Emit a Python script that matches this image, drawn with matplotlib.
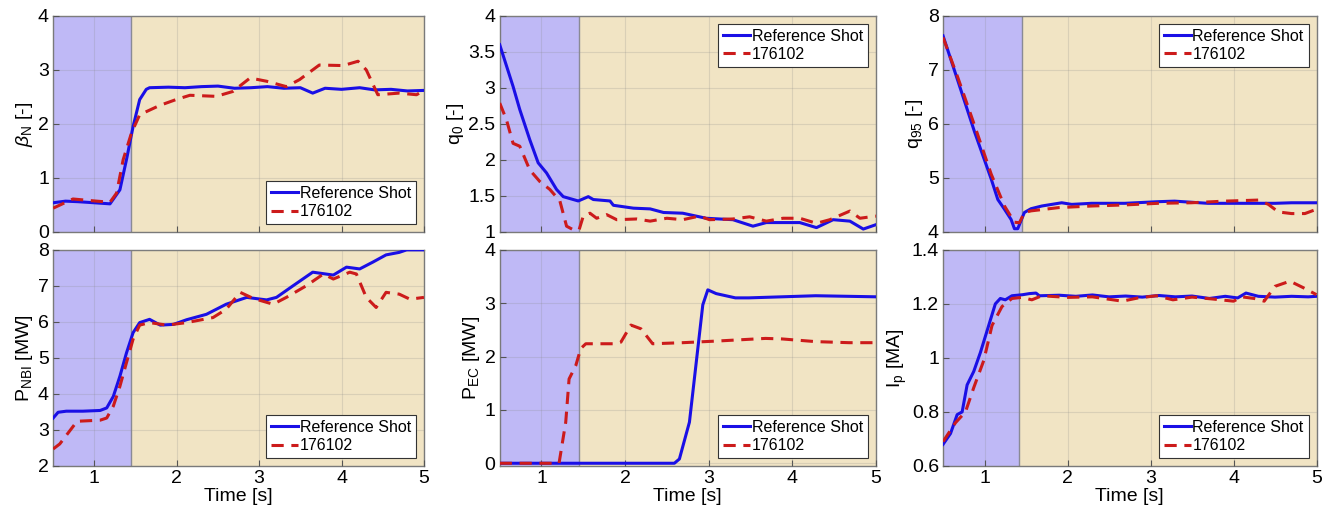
#! /usr/bin/env python3

"""
Reference shot vs. shot 176102: six time traces, ramp-up phase shaded blue,
flat-top phase shaded tan.
"""

import numpy as np
import matplotlib
matplotlib.use('Agg')
import matplotlib.pyplot as plt

plt.rcParams['font.family'] = ['Liberation Sans', 'DejaVu Sans']
plt.rcParams['mathtext.fontset'] = 'custom'
plt.rcParams['mathtext.rm'] = 'Liberation Sans'
plt.rcParams['mathtext.it'] = 'Liberation Sans:italic'

# phase boundary (end of ramp-up) in seconds
t_switch = [1.45, 1.45, 1.45, 1.45, 1.45, 1.42]

# beta_N
bn_ref_t = [0.5, 0.65, 0.8, 1.0, 1.19, 1.31, 1.39, 1.47, 1.55, 1.63, 1.67, 1.9, 2.1, 2.3, 2.5,
            2.7, 2.9, 3.1, 3.3, 3.5, 3.65, 3.8, 4.0, 4.22, 4.4, 4.6, 4.8, 5.0]
bn_ref = [0.54, 0.57, 0.56, 0.54, 0.52, 0.78, 1.34, 1.95, 2.45, 2.64, 2.67, 2.68, 2.67, 2.69, 2.70,
          2.66, 2.67, 2.69, 2.66, 2.67, 2.57, 2.66, 2.64, 2.67, 2.63, 2.64, 2.61, 2.62]
bn_shot_t = [0.5, 0.74, 1.03, 1.19, 1.27, 1.35, 1.45, 1.55, 1.79, 1.99, 2.16, 2.48, 2.68, 2.89,
             3.09, 3.33, 3.49, 3.73, 4.02, 4.2, 4.3, 4.44, 4.7, 4.91, 5.0]
bn_shot = [0.44, 0.61, 0.57, 0.55, 0.72, 1.34, 1.83, 2.17, 2.34, 2.45, 2.53, 2.51, 2.60, 2.85,
           2.79, 2.69, 2.82, 3.09, 3.08, 3.16, 3.0, 2.54, 2.57, 2.54, 2.62]

# q_0
q0_ref_t = [0.5, 0.66, 0.74, 0.86, 0.96, 1.06, 1.18, 1.26, 1.44, 1.56, 1.62, 1.82, 1.86, 2.1, 2.3,
            2.46, 2.69, 2.97, 3.29, 3.53, 3.69, 3.89, 4.09, 4.29, 4.49, 4.69, 4.85, 5.0]
q0_ref = [3.6, 3.02, 2.70, 2.28, 1.96, 1.82, 1.59, 1.49, 1.43, 1.49, 1.45, 1.43, 1.37, 1.33, 1.32,
          1.27, 1.26, 1.19, 1.17, 1.08, 1.13, 1.13, 1.13, 1.06, 1.17, 1.15, 1.04, 1.10]
q0_shot_t = [0.5, 0.58, 0.66, 0.74, 0.86, 0.98, 1.1, 1.22, 1.3, 1.38, 1.45, 1.5, 1.58, 1.66, 1.78,
             1.9, 2.14, 2.3, 2.5, 2.69, 2.89, 3.01, 3.29, 3.49, 3.69, 3.89, 4.09, 4.29, 4.45,
             4.69, 4.81, 5.0]
q0_shot = [2.79, 2.56, 2.23, 2.19, 1.86, 1.70, 1.59, 1.43, 1.08, 1.03, 1.03, 1.22, 1.26, 1.19, 1.24,
           1.17, 1.18, 1.15, 1.19, 1.17, 1.22, 1.17, 1.18, 1.21, 1.15, 1.19, 1.19, 1.12, 1.17,
           1.29, 1.19, 1.22]

# q_95
q95_ref_t = [0.5, 0.68, 0.88, 1.08, 1.16, 1.24, 1.32, 1.36, 1.40, 1.48, 1.56, 1.69, 1.93, 2.05,
             2.29, 2.69, 3.09, 3.29, 3.69, 4.09, 4.5, 4.7, 5.0]
q95_ref = [7.63, 6.79, 5.85, 4.98, 4.60, 4.42, 4.23, 4.06, 4.06, 4.36, 4.43, 4.48, 4.54, 4.51,
           4.53, 4.53, 4.56, 4.57, 4.53, 4.53, 4.53, 4.54, 4.54]
q95_shot_t = [0.5, 0.68, 0.88, 1.08, 1.24, 1.36, 1.42, 1.48, 1.56, 1.89, 2.29, 2.69, 3.09, 3.49,
              3.89, 4.3, 4.42, 4.54, 4.7, 4.86, 5.0]
q95_shot = [7.6, 6.85, 5.97, 5.07, 4.48, 4.18, 4.17, 4.36, 4.39, 4.45, 4.48, 4.50, 4.53, 4.54,
            4.57, 4.59, 4.51, 4.37, 4.34, 4.34, 4.42]

# P_NBI
nbi_ref_t = [0.5, 0.56, 0.66, 0.86, 1.07, 1.15, 1.23, 1.31, 1.39, 1.47, 1.55, 1.67, 1.8, 1.96,
             2.12, 2.36, 2.6, 2.85, 3.09, 3.21, 3.41, 3.65, 3.9, 4.06, 4.22, 4.38, 4.54, 4.7,
             4.79, 5.0]
nbi_ref = [3.33, 3.49, 3.52, 3.52, 3.54, 3.61, 3.93, 4.49, 5.14, 5.70, 5.98, 6.07, 5.91, 5.93,
           6.06, 6.21, 6.49, 6.68, 6.61, 6.68, 7.0, 7.38, 7.30, 7.52, 7.47, 7.66, 7.86, 7.93,
           8.0, 8.0]
nbi_shot_t = [0.5, 0.58, 0.79, 1.07, 1.15, 1.23, 1.31, 1.39, 1.47, 1.55, 1.67, 1.88, 2.12, 2.44,
              2.6, 2.77, 2.93, 3.17, 3.33, 3.57, 3.78, 3.9, 4.1, 4.18, 4.3, 4.42, 4.54, 4.7,
              4.83, 5.0]
nbi_shot = [2.47, 2.61, 3.24, 3.27, 3.33, 3.66, 4.21, 4.87, 5.52, 5.91, 5.98, 5.91, 5.98, 6.12,
            6.35, 6.82, 6.65, 6.49, 6.68, 7.0, 7.33, 7.19, 7.38, 7.33, 6.68, 6.40, 6.82, 6.77,
            6.63, 6.68]

# P_EC
ec_ref_t = [0.5, 1.0, 2.0, 2.59, 2.65, 2.77, 2.93, 2.99, 3.09, 3.32, 3.48, 3.88, 4.28, 5.0]
ec_ref = [0.0, 0.0, 0.0, 0.0, 0.08, 0.77, 2.97, 3.25, 3.18, 3.10, 3.10, 3.12, 3.14, 3.12]
ec_shot_t = [0.5, 1.0, 1.21, 1.29, 1.33, 1.41, 1.47, 1.53, 1.89, 1.95, 2.07, 2.19, 2.33, 2.69,
             3.09, 3.68, 3.88, 4.28, 4.68, 5.0]
ec_shot = [0.0, 0.0, 0.0, 0.77, 1.58, 1.83, 2.15, 2.24, 2.24, 2.27, 2.59, 2.52, 2.24, 2.26,
           2.29, 2.34, 2.33, 2.28, 2.26, 2.26]

# I_p
ip_ref_t = [0.5, 0.59, 0.67, 0.73, 0.79, 0.87, 0.95, 1.01, 1.13, 1.19, 1.25, 1.33, 1.46, 1.54,
            1.62, 1.66, 1.9, 2.1, 2.3, 2.5, 2.7, 2.9, 3.1, 3.3, 3.5, 3.71, 3.9, 4.05, 4.15, 4.3,
            4.5, 4.7, 4.9, 5.0]
ip_ref = [0.68, 0.72, 0.79, 0.80, 0.90, 0.95, 1.02, 1.08, 1.20, 1.22, 1.215, 1.23, 1.234, 1.238,
          1.24, 1.23, 1.232, 1.228, 1.233, 1.226, 1.229, 1.225, 1.231, 1.226, 1.229, 1.22, 1.228,
          1.222, 1.24, 1.228, 1.225, 1.228, 1.226, 1.228]
ip_shot_t = [0.5, 0.65, 0.77, 0.87, 0.99, 1.09, 1.21, 1.33, 1.45, 1.57, 1.69, 2.0, 2.3, 2.66,
             2.85, 3.07, 3.27, 3.5, 3.75, 4.0, 4.1, 4.25, 4.37, 4.5, 4.68, 4.84, 5.0]
ip_shot = [0.69, 0.76, 0.80, 0.89, 0.99, 1.12, 1.19, 1.22, 1.224, 1.215, 1.23, 1.224, 1.226,
           1.21, 1.222, 1.23, 1.215, 1.225, 1.218, 1.21, 1.226, 1.22, 1.21, 1.265, 1.284, 1.26,
           1.234]

panels = [
    (bn_ref_t, bn_ref, bn_shot_t, bn_shot, r'$\beta_{\rm N}$ [-]', (0, 4), [0, 1, 2, 3, 4], 'lower right'),
    (q0_ref_t, q0_ref, q0_shot_t, q0_shot, r'q$_0$ [-]', (1, 4), [1, 1.5, 2, 2.5, 3, 3.5, 4], 'upper right'),
    (q95_ref_t, q95_ref, q95_shot_t, q95_shot, r'q$_{95}$ [-]', (4, 8), [4, 5, 6, 7, 8], 'upper right'),
    (nbi_ref_t, nbi_ref, nbi_shot_t, nbi_shot, r'P$_{\rm NBI}$ [MW]', (2, 8), [2, 3, 4, 5, 6, 7, 8], 'lower right'),
    (ec_ref_t, ec_ref, ec_shot_t, ec_shot, r'P$_{\rm EC}$ [MW]', (-0.05, 4), [0, 1, 2, 3, 4], 'lower right'),
    (ip_ref_t, ip_ref, ip_shot_t, ip_shot, r'I$_{\rm p}$ [MA]', (0.6, 1.4), [0.6, 0.8, 1, 1.2, 1.4], 'lower right'),
]

# axes positions in figure fractions [left, bottom, width, height]
lefts = [0.040, 0.376, 0.7096]
widths = [0.279, 0.283, 0.281]
bottoms = [0.547, 0.090]
height = 0.422

fig = plt.figure(figsize=(13.29, 5.12), dpi=100)

for i, (rt, rv, st, sv, ylab, ylim, yticks, loc) in enumerate(panels):
    row, col = divmod(i, 3)
    ax = fig.add_axes([lefts[col], bottoms[row], widths[col], height])
    ts = t_switch[i]
    ax.axvspan(0.5, ts, color='#bfb9f6', lw=0, zorder=0.5)
    ax.axvspan(ts, 5, color='#f1e4c4', lw=0, zorder=0.5)
    ax.axvline(ts, color='#8a8a95', lw=1.0, zorder=1)
    ax.plot(rt, rv, color='#1a0fe6', lw=2.2, zorder=3, label='Reference Shot')
    ax.plot(st, sv, color='#cc1b1b', lw=2.2, ls=(0, (4, 2.5)), zorder=3, label='176102')
    ax.set_xlim(0.5, 5)
    ax.set_ylim(*ylim)
    ax.set_xticks([1, 2, 3, 4, 5])
    ax.set_yticks(yticks)
    ax.set_yticklabels([f'{v:g}' for v in yticks])
    ax.grid(True, color='#888888', alpha=0.22, lw=0.8, zorder=2)
    ax.set_axisbelow(False)
    ax.tick_params(direction='in', length=4, color='#555555', labelsize=14, pad=3)
    if row == 0:
        ax.tick_params(axis='x', labelbottom=False)
    else:
        ax.set_xlabel('Time [s]', fontsize=14, labelpad=1)
    ax.set_ylabel(ylab, fontsize=14, labelpad=2)
    for sp in ax.spines.values():
        sp.set_color('#7a7a7a')
        sp.set_linewidth(1.0)
    leg = ax.legend(loc=loc, fontsize=11.5, handlelength=1.7, handletextpad=0.1,
                    borderaxespad=0.5, fancybox=False, framealpha=1, borderpad=0.3,
                    labelspacing=0.2)
    leg.get_frame().set_edgecolor('#333333')
    leg.get_frame().set_linewidth(0.8)

plt.savefig('out.png', dpi=100)
